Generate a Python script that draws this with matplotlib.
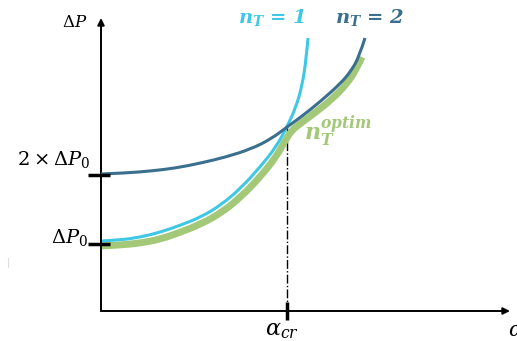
import matplotlib
matplotlib.use("Agg")
import matplotlib.pyplot as plt
from matplotlib.path import Path
from matplotlib.patches import PathPatch

plt.rcParams['mathtext.fontset'] = 'custom'
plt.rcParams['mathtext.rm'] = 'DejaVu Serif'
plt.rcParams['mathtext.it'] = 'DejaVu Serif:italic'
plt.rcParams['mathtext.bf'] = 'DejaVu Serif:bold:italic'

# pressure drop vs alpha, schematic units
alpha_nt1 = [0, 20, 40, 60, 80, 100, 120, 140, 160, 175, 186, 195, 201, 205, 207]
dp_nt1 = [70, 71, 74, 79, 86, 94, 106, 123, 145, 164, 184, 204, 225, 250, 273]

alpha_nt2 = [0, 25, 50, 75, 100, 125, 150, 170, 186, 200, 220, 240, 250, 258, 264]
dp_nt2 = [137, 138, 140, 143, 148, 154, 162, 172, 184, 194, 210, 228, 240, 254, 273]

alpha_opt = [0, 20, 40, 60, 80, 100, 120, 140, 160, 175, 184, 190, 200, 215, 230,
             245, 255, 261]
dp_opt = [65, 66, 68, 72, 79, 87, 98, 114, 135, 154, 170, 180, 188, 199, 211,
          226, 241, 254]

dp0 = 67
dp0_x2 = 136
alpha_cr = 186
alpha_max = 409
dp_max = 293

c_nt1 = '#3fc8e6'
c_nt2 = '#3a6f8e'
c_opt = '#a2c878'


def smooth_curve(ax, xs, ys, **kw):
    # quadratic bezier through the midpoints, keeps both end points
    pts = list(zip(xs, ys))
    verts = [pts[0]]
    codes = [Path.MOVETO]
    for i in range(1, len(pts) - 1):
        mid = ((pts[i][0] + pts[i + 1][0]) / 2, (pts[i][1] + pts[i + 1][1]) / 2)
        if i == len(pts) - 2:
            mid = pts[-1]
        verts += [pts[i], mid]
        codes += [Path.CURVE3, Path.CURVE3]
    patch = PathPatch(Path(verts, codes), fill=False, capstyle='butt',
                      joinstyle='round', **kw)
    ax.add_patch(patch)


fig = plt.figure(figsize=(5.17, 3.41), dpi=100)
ax = fig.add_axes([101 / 517, 30 / 341, 409 / 517, 293 / 341])
ax.set_xlim(0, alpha_max)
ax.set_ylim(0, dp_max)
ax.axis('off')

smooth_curve(ax, alpha_opt, dp_opt, edgecolor=c_opt, lw=5, zorder=2)
smooth_curve(ax, alpha_nt1, dp_nt1, edgecolor=c_nt1, lw=2.2, zorder=3)
smooth_curve(ax, alpha_nt2, dp_nt2, edgecolor=c_nt2, lw=2.2, zorder=4)

# axes with arrow heads
arrow = dict(arrowstyle='-|>', color='black', lw=1.4, mutation_scale=10,
             shrinkA=0, shrinkB=0)
ax.annotate('', xy=(alpha_max, 0), xytext=(0, 0), arrowprops=arrow,
            annotation_clip=False)
ax.annotate('', xy=(0, dp_max), xytext=(0, 0), arrowprops=arrow,
            annotation_clip=False)

# critical alpha
ax.plot([alpha_cr, alpha_cr], [184, 9], color='black', lw=1, ls='-.', zorder=1)
ax.plot([alpha_cr, alpha_cr], [-9, 9], color='black', lw=2.5,
        solid_capstyle='butt', clip_on=False, zorder=5)
for y in (dp0, dp0_x2):
    ax.plot([-13, 9], [y, y], color='black', lw=2.5, solid_capstyle='butt',
            clip_on=False, zorder=5)

ax.plot([-93, -93], [44, 53], color='#dddddd', lw=0.8, clip_on=False)

ax.text(-26, 289, r'$\Delta P$', fontsize=12, ha='center', va='center')
ax.text(-11, 151, r'$2\times\Delta P_0$', fontsize=14, ha='right', va='center')
ax.text(-13, 73, r'$\Delta P_0$', fontsize=14, ha='right', va='center')
ax.text(alpha_cr - 5, -20, r'$\alpha_{cr}$', fontsize=16, ha='center', va='center')
ax.text(407, -19, r'$\alpha$', fontsize=15, ha='left', va='center')

ax.text(171, 293, r'$\mathbf{n_T\,=\,1}$', fontsize=14, color=c_nt1,
        ha='center', va='center')
ax.text(269, 293, r'$\mathbf{n_T\,=\,2}$', fontsize=14, color=c_nt2,
        ha='center', va='center')
ax.text(203, 180, r'$\mathbf{n_T^{optim}}$', fontsize=16, color=c_opt,
        ha='left', va='center')

fig.savefig('out.png', dpi=100)
